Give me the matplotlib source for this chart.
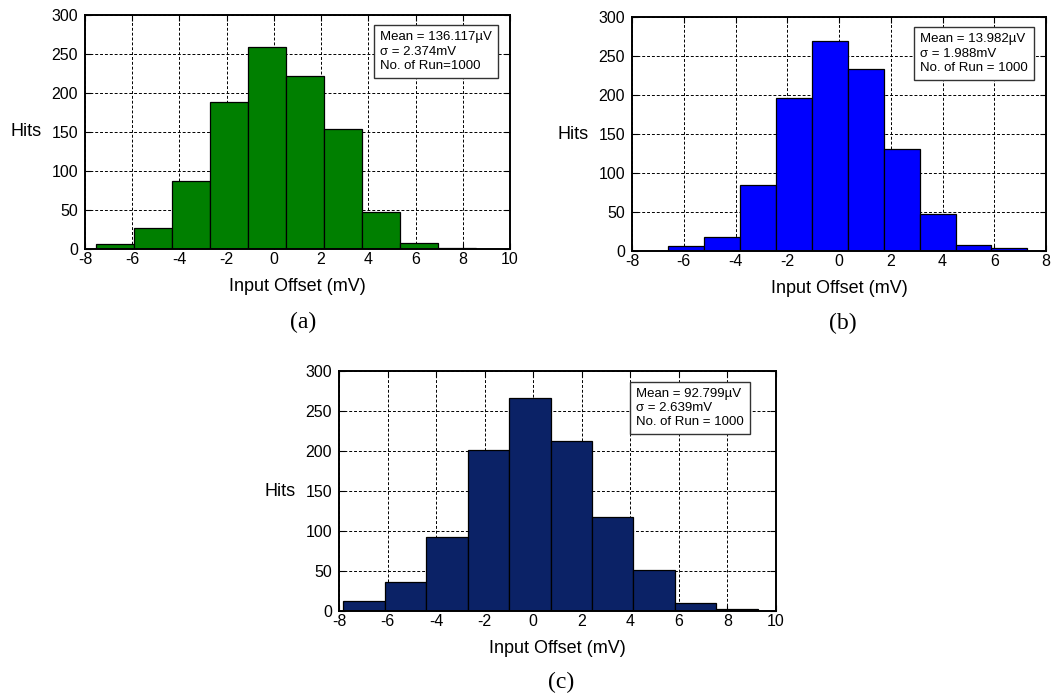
import numpy as np
import matplotlib
matplotlib.use("Agg")
import matplotlib.pyplot as plt

plt.rcParams['font.family'] = ['Liberation Sans', 'DejaVu Sans']
plt.rcParams['axes.unicode_minus'] = False

# bin edges (mV) and hit counts
edges_a = [-7.53, -5.92, -4.31, -2.70, -1.09, 0.52, 2.13, 3.74, 5.35, 6.96, 8.57]
hits_a = [6, 27, 87, 189, 259, 222, 154, 47, 8, 1]
edges_b = [-6.60, -5.21, -3.83, -2.44, -1.05, 0.34, 1.72, 3.11, 4.50, 5.88, 7.27]
hits_b = [7, 18, 85, 196, 269, 234, 131, 48, 8, 4]
edges_c = [-7.82, -6.11, -4.41, -2.70, -0.99, 0.72, 2.42, 4.13, 5.84, 7.54, 9.25]
hits_c = [12, 36, 92, 201, 266, 212, 118, 51, 10, 2]

stats_a = "Mean = 136.117\u00b5V\n\u03c3 = 2.374mV\nNo. of Run=1000"
stats_b = "Mean = 13.982\u00b5V\n\u03c3 = 1.988mV\nNo. of Run = 1000"
stats_c = "Mean = 92.799\u00b5V\n\u03c3 = 2.639mV\nNo. of Run = 1000"

xlim_a = (-8, 10)
xlim_b = (-8, 8)
xlim_c = (-8, 10)

W, H = 1057, 698
fig = plt.figure(figsize=(W / 100, H / 100), dpi=100)


def draw_panel(rect, edges, hits, color, xlim, stats, box_x):
    ax = fig.add_axes(rect)
    edges = np.array(edges)
    ax.bar(edges[:-1], hits, width=np.diff(edges), align='edge',
           color=color, edgecolor='black', linewidth=0.9, zorder=2)
    ax.set_xlim(*xlim)
    ax.set_ylim(0, 300)
    ax.set_xticks(np.arange(xlim[0], xlim[1] + 1, 2))
    ax.set_yticks(np.arange(0, 301, 50))
    ax.set_axisbelow(True)
    ax.grid(True, color='black', linestyle=(0, (3, 2)), linewidth=0.7)
    ax.tick_params(direction='in', length=4, width=0.8, top=True, right=True,
                   labelsize=11.5, colors='black')
    ax.tick_params(axis='x', pad=2)
    ax.tick_params(axis='y', pad=5)
    for s in ax.spines.values():
        s.set_linewidth(1.4)
    ax.set_xlabel('Input Offset (mV)', fontsize=13, labelpad=8)
    ax.set_ylabel('Hits', fontsize=13, rotation=0, ha='right', va='center', labelpad=7)
    ax.text(box_x, 0.93, stats, transform=ax.transAxes, fontsize=9.5, va='top', ha='left',
            linespacing=1.25, zorder=5,
            bbox=dict(boxstyle='square,pad=0.45', fc='white', ec='#333333', lw=1.0))
    return ax


draw_panel([0.0804, 0.6433, 0.4021, 0.3352], edges_a, hits_a, '#007f00', xlim_a, stats_a, 0.695)
draw_panel([0.598, 0.6404, 0.3917, 0.3352], edges_b, hits_b, '#0000ff', xlim_b, stats_b, 0.695)
draw_panel([0.3207, 0.1246, 0.4134, 0.3438], edges_c, hits_c, '#0b2266', xlim_c, stats_c, 0.68)

# sub-figure captions
for tag, px, py in [('(a)', 303, 322), ('(b)', 843, 323), ('(c)', 561, 682)]:
    fig.text(px / W, 1 - py / H, tag, ha='center', va='center',
             fontsize=17, family='Liberation Serif')

fig.savefig('out.png', dpi=100)
